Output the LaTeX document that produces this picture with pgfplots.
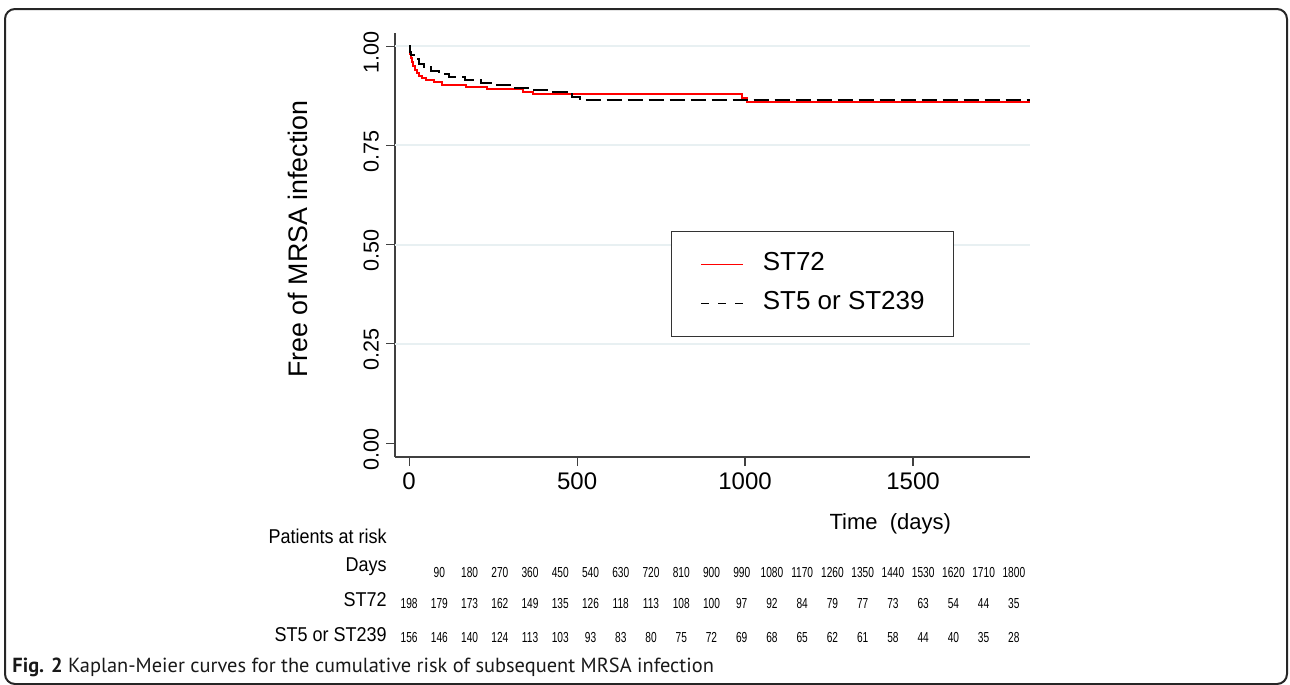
\documentclass[border=0pt]{standalone}
\usepackage{fontspec}
\usepackage{pgfplots}
\usepackage{pgfplotstable}
\pgfplotsset{compat=1.18}
\setmainfont{Liberation Sans}
\newfontfamily\narrowfont[FakeStretch=0.9]{Liberation Sans}
\newfontfamily\numfont[FakeStretch=0.7]{Liberation Sans}
\newfontfamily\capfont{PT Sans}
\definecolor{gridcol}{RGB}{232,240,242}
\definecolor{axcol}{RGB}{64,64,64}

% Kaplan-Meier steps (days, survival)
\pgfplotstableread{
t s
0 1.000
2 0.990
4 0.980
7 0.970
10 0.960
13 0.950
17 0.940
22 0.932
30 0.925
38 0.919
50 0.914
75 0.910
98 0.902
170 0.898
232 0.892
340 0.885
370 0.879
990 0.870
1005 0.859
1848 0.859
}\stseventytwo

\pgfplotstableread{
t s
0 1.000
3 0.985
7 0.977
15 0.967
30 0.955
45 0.948
65 0.938
90 0.930
120 0.922
165 0.914
215 0.907
250 0.902
310 0.894
360 0.890
420 0.885
470 0.879
485 0.872
509 0.863
1848 0.863
}\stfive

% patients at risk
\pgfplotstableread{
day st72 st5
0 198 156
90 179 146
180 173 140
270 162 124
360 149 113
450 135 103
540 126 93
630 118 83
720 113 80
810 108 75
900 100 72
990 97 69
1080 92 68
1170 84 65
1260 79 62
1350 77 61
1440 73 58
1530 63 44
1620 54 40
1710 44 35
1800 35 28
}\risk

\begin{document}
\begin{tikzpicture}
\useasboundingbox (0,0) rectangle (645pt,-342.5pt);
\begin{axis}[
  at={(197.5pt,-228.5pt)}, anchor=south west,
  scale only axis, width=317.5pt, height=212pt,
  xmin=-42, xmax=1848, ymin=-0.035, ymax=1.033,
  axis lines*=left,
  axis line style={-, draw=axcol, line width=0.75pt},
  tick style={draw=axcol, line width=0.6pt},
  tick align=outside, major tick length=4.5pt,
  xtick={0,500,1000,1500},
  ytick={0,0.25,0.5,0.75,1},
  extra y ticks={0.25,0.5,0.75,1},
  extra y tick labels={},
  extra y tick style={ymajorgrids=true, major tick length=0pt},
  major grid style={draw=gridcol, line width=1pt},
  /pgf/number format/assume math mode=true,
  /pgf/number format/1000 sep={},
  yticklabel style={rotate=90, anchor=south, xshift=-3pt, font=\fontsize{10.8}{12}\selectfont,
    /pgf/number format/.cd, fixed, fixed zerofill, precision=2},
  xticklabel style={font=\fontsize{12}{14}\selectfont},
  ylabel={Free of MRSA infection},
  ylabel style={at={(rel axis cs:-0.153,0.514)}, anchor=center, font=\fontsize{13.4}{15}\selectfont},
  xlabel={Time\ \ (days)},
  xlabel style={at={(rel axis cs:0.78,-0.158)}, anchor=center, font=\fontsize{11}{13}\selectfont},
  clip=false,
  legend style={at={(rel axis cs:0.4346,0.533)}, anchor=north west,
    draw=black!80, line width=0.6pt, inner xsep=14.5pt, inner ysep=10pt,
    font=\fontsize{13}{15}\selectfont, row sep=6.5pt,
    nodes={inner sep=0pt, text height=9.5pt, text depth=3.5pt},
    /tikz/every odd column/.append style={column sep=9.5pt}},
  legend cell align=left,
  legend image code/.code={\draw[#1] (0pt,0pt) -- (21pt,0pt);},
]
\addplot[const plot, red, line width=1pt,
  legend image post style={line width=0.6pt}] table[x=t, y=s] {\stseventytwo};
\addplot[const plot, black, line width=1pt, dash pattern=on 7.5pt off 3pt,
  legend image post style={line width=0.6pt, dash pattern=on 4pt off 4.5pt}] table[x=t, y=s] {\stfive};
\legend{ST72, ST5 or ST239}

\addplot[forget plot, draw=none, mark=none, nodes near coords, point meta=explicit symbolic,
  nodes near coords style={font=\numfont\fontsize{7.25}{8}\selectfont, anchor=center, inner sep=0pt},
  skip coords between index={0}{1}] table[x=day, y expr=-0.325, meta=day] {\risk};
\addplot[forget plot, draw=none, mark=none, nodes near coords, point meta=explicit symbolic,
  nodes near coords style={font=\numfont\fontsize{7.25}{8}\selectfont, anchor=center, inner sep=0pt}]
  table[x=day, y expr=-0.403, meta=st72] {\risk};
\addplot[forget plot, draw=none, mark=none, nodes near coords, point meta=explicit symbolic,
  nodes near coords style={font=\numfont\fontsize{7.25}{8}\selectfont, anchor=center, inner sep=0pt}]
  table[x=day, y expr=-0.489, meta=st5] {\risk};
\end{axis}

\begin{scope}[x=0.5pt, y=-0.5pt]
  \draw[line width=1pt, draw=black!85, rounded corners=5pt] (5,9) rectangle (1287,684);
  \begin{scope}[every node/.style={anchor=east, inner sep=0pt, font=\narrowfont\fontsize{10}{12}\selectfont}]
    \node at (387,536) {\fontsize{10}{12}\selectfont Patients at risk};
    \node at (387,567) {Days};
    \node at (387,600) {ST72};
    \node at (387,635) {ST5 or ST239};
  \end{scope}
  \node[anchor=west, inner sep=0pt, font=\capfont\fontsize{10.2}{12}\selectfont, text=black!90] at (12,667)
    {\textbf{Fig. 2} Kaplan-Meier curves for the cumulative risk of subsequent MRSA infection};
\end{scope}
\end{tikzpicture}
\end{document}
